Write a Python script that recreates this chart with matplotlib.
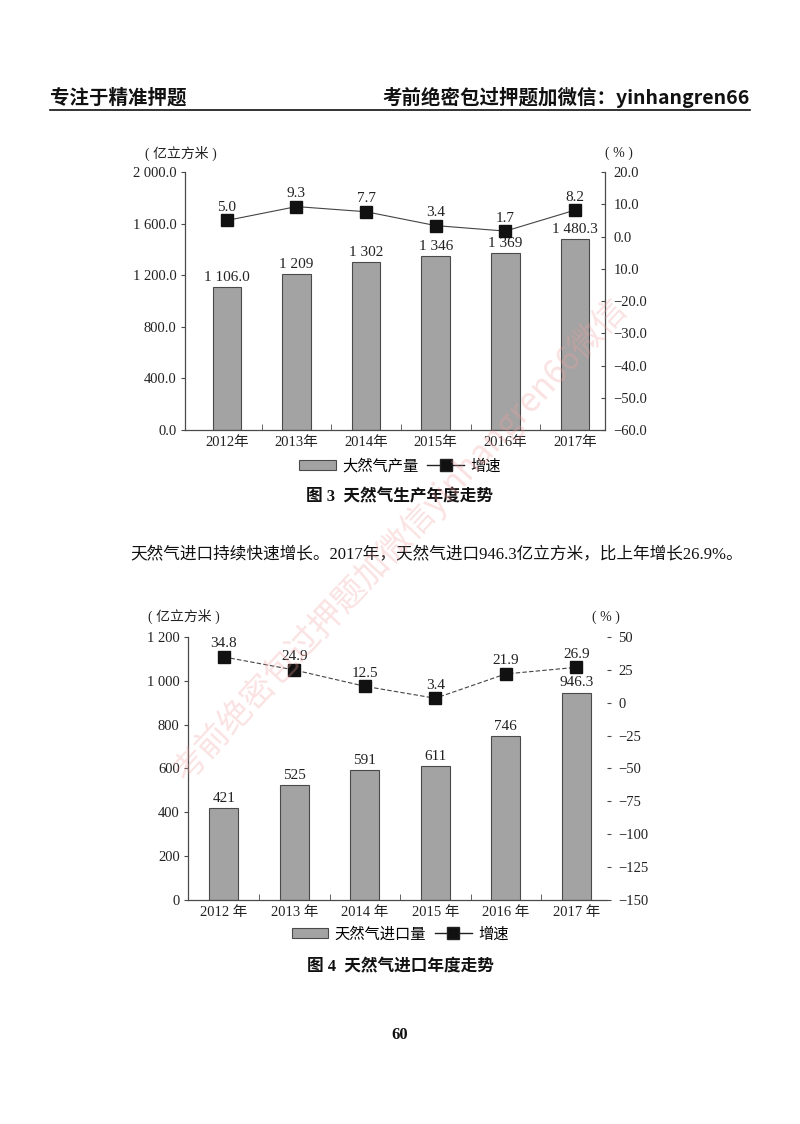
import matplotlib.pyplot as plt
from matplotlib.patches import Patch
from matplotlib.lines import Line2D

plt.rcParams['font.family'] = ['Liberation Serif', 'Noto Sans CJK SC', 'DejaVu Sans']

# 数据
years = [2012, 2013, 2014, 2015, 2016, 2017]
prod_vals = [1106.0, 1209, 1302, 1346, 1369, 1480.3]
prod_labels = ['1 106.0', '1 209', '1 302', '1 346', '1 369', '1 480.3']
prod_growth = [5.0, 9.3, 7.7, 3.4, 1.7, 8.2]
imp_vals = [421, 525, 591, 611, 746, 946.3]
imp_labels = ['421', '525', '591', '611', '746', '946.3']
imp_growth = [34.8, 24.9, 12.5, 3.4, 21.9, 26.9]

left1_ticks = [0, 400, 800, 1200, 1600, 2000]
left1_labels = ['0.0', '400.0', '800.0', '1 200.0', '1 600.0', '2 000.0']
right1_ticks = [-60, -50, -40, -30, -20, -10, 0, 10, 20]
right1_labels = ['−60.0', '−50.0', '−40.0', '−30.0', '−20.0', '10.0', '0.0', '10.0', '20.0']
left2_ticks = [0, 200, 400, 600, 800, 1000, 1200]
left2_labels = ['0', '200', '400', '600', '800', '1 000', '1 200']
right2_ticks = [-150, -125, -100, -75, -50, -25, 0, 25, 50]
right2_labels = ['−150', '−125', '−100', '−75', '−50', '−25', '0', '25', '50']

BAR = '#a3a3a3'
EDGE = '#4a4a4a'
TXT = '#222222'

fig = plt.figure(figsize=(8, 11.24), dpi=100)


def draw_chart(rect, vals, vlabels, growth, lticks, llabels, rticks, rlabels,
               ylim_l, ylim_r, xlim, xlab_fmt, line_style, right_spine):
    ax = fig.add_axes(rect)
    x = list(range(len(years)))
    ax.bar(x, vals, width=0.41, color=BAR, edgecolor=EDGE, linewidth=0.8, zorder=2)
    for xi, v, lab in zip(x, vals, vlabels):
        ax.text(xi, v + ylim_l[1] * 0.012, lab, ha='center', va='bottom',
                fontsize=11, color=TXT)
    ax.set_xlim(*xlim)
    ax.set_ylim(*ylim_l)
    ax.set_yticks(lticks)
    ax.set_yticklabels(llabels, fontsize=10.5, color=TXT)
    ax.set_xticks(x)
    ax.set_xticklabels([xlab_fmt.format(y) for y in years], fontsize=10.5, color=TXT)
    ax.tick_params(axis='x', length=0, pad=4)
    ax.set_xticks([i + 0.5 for i in range(len(years) - 1)], minor=True)
    ax.tick_params(axis='x', which='minor', direction='in', length=4, color=EDGE)
    ax.tick_params(axis='y', direction='out', length=3, color=EDGE, pad=3)
    ax.spines['top'].set_visible(False)
    ax.spines['right'].set_visible(False)
    for s in ['left', 'bottom']:
        ax.spines[s].set_color(EDGE)
        ax.spines[s].set_linewidth(0.9)

    ax2 = ax.twinx()
    ax2.plot(x, growth, color='#444444', linewidth=0.8, linestyle=line_style,
             marker='s', markersize=9, markerfacecolor='#111111',
             markeredgecolor='#111111', zorder=3)
    rng = ylim_r[1] - ylim_r[0]
    for xi, g in zip(x, growth):
        ax2.text(xi, g + rng * 0.025, f'{g:.1f}', ha='center', va='bottom',
                 fontsize=11, color=TXT)
    ax2.set_ylim(*ylim_r)
    ax2.set_yticks(rticks)
    ax2.set_yticklabels(rlabels, fontsize=10.5, color=TXT)
    ax2.spines['top'].set_visible(False)
    ax2.spines['left'].set_visible(False)
    ax2.spines['bottom'].set_visible(False)
    if right_spine:
        ax2.spines['right'].set_color(EDGE)
        ax2.spines['right'].set_linewidth(0.9)
        ax2.tick_params(axis='y', direction='in', length=3, color=EDGE, pad=6)
    else:
        ax2.spines['right'].set_visible(False)
        ax2.tick_params(axis='y', direction='out', length=3, color=EDGE, pad=5)
    return ax


ax1 = draw_chart([0.23125, 0.6174, 0.525, 0.2295], prod_vals, prod_labels, prod_growth,
                 left1_ticks, left1_labels, right1_ticks, right1_labels,
                 (0, 2000), (-60, 20), (-0.60, 5.43), '{}年', '-', True)
ax2 = draw_chart([0.235, 0.1993, 0.524, 0.234], imp_vals, imp_labels, imp_growth,
                 left2_ticks, left2_labels, right2_ticks, right2_labels,
                 (0, 1200), (-150, 50), (-0.51, 5.44), '{} 年', (0, (4, 2)), False)

# 单位
fig.text(145 / 800, 1 - 153 / 1124, '( 亿立方米 )', fontsize=10, color=TXT, va='center')
fig.text(605 / 800, 1 - 153 / 1124, '( % )', fontsize=10, color=TXT, va='center')
fig.text(148 / 800, 1 - 616 / 1124, '( 亿立方米 )', fontsize=10, color=TXT, va='center')
fig.text(592 / 800, 1 - 617 / 1124, '( % )', fontsize=10, color=TXT, va='center')

# 图例
for ax, name, ypix in [(ax1, '大然气产量', 466), (ax2, '天然气进口量', 934)]:
    handles = [Patch(facecolor=BAR, edgecolor=EDGE, linewidth=0.8),
               Line2D([], [], color='#222222', linewidth=1.0, marker='s',
                      markersize=8, markerfacecolor='#111111')]
    fig.legend(handles, [name, '增速'], loc='center', bbox_to_anchor=(0.5, 1 - ypix / 1124),
               ncol=2, frameon=False, fontsize=11, handlelength=2.4,
               handletextpad=0.4, columnspacing=0.6)

# 图题
fig.text(0.5, 1 - 497 / 1124, '图 3  天然气生产年度走势', ha='center', va='center',
         fontsize=12, fontweight='bold', color='#111111')
fig.text(0.5, 1 - 967 / 1124, '图 4  天然气进口年度走势', ha='center', va='center',
         fontsize=12, fontweight='bold', color='#111111')

# 正文
fig.text(130 / 800, 1 - 555 / 1124,
         '天然气进口持续快速增长。2017年，天然气进口946.3亿立方米，比上年增长26.9%。',
         fontsize=12, color='#111111', va='center')

# 页眉
fig.text(50 / 800, 1 - 98 / 1124, '专注于精准押题', fontsize=14, fontweight='bold',
         color='#111111', va='center', family=['Noto Sans CJK SC', 'DejaVu Sans'])
fig.text(750 / 800, 1 - 98 / 1124, '考前绝密包过押题加微信：yinhangren66', fontsize=14,
         fontweight='bold', color='#111111', va='center', ha='right',
         family=['Noto Sans CJK SC', 'DejaVu Sans'])
fig.add_artist(Line2D([50 / 800, 750 / 800], [1 - 110 / 1124, 1 - 110 / 1124],
                      color='#111111', linewidth=1.2))

# 页码
fig.text(0.5, 1 - 1035 / 1124, '60', ha='center', va='center', fontsize=12,
         fontweight='bold', color='#111111')

# 水印
fig.text(0.5, 0.52, '考前绝密包过押题加微信yinhangren66微信', ha='center', va='center',
         fontsize=24, rotation=47, color='#f3a0a0', alpha=0.3,
         family=['Noto Sans CJK SC', 'DejaVu Sans'], zorder=10)

fig.savefig('out.png', dpi=100)
